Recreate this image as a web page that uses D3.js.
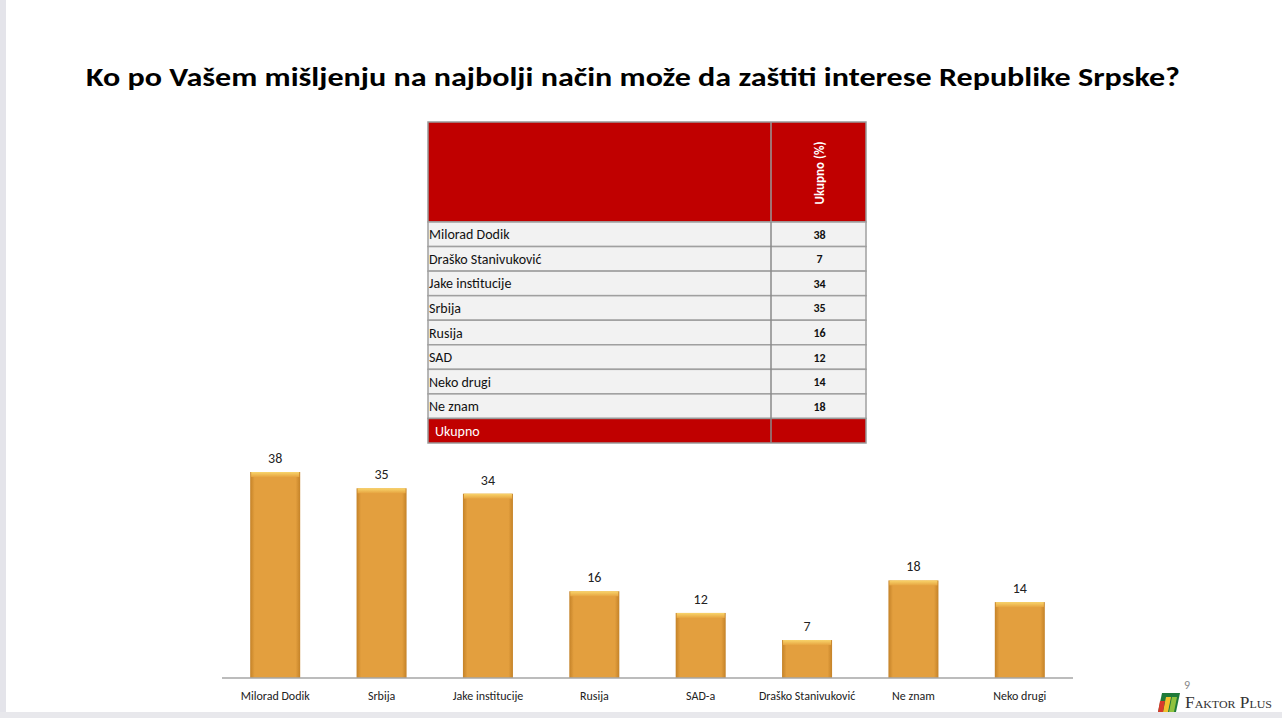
<!DOCTYPE html>
<html>
<head>
<meta charset="utf-8">
<script src="https://cdn.jsdelivr.net/npm/d3@7"></script>
<style>
  body { margin: 0; background: #fff; }
  svg { display: block; }
</style>
</head>
<body>
<script>
// table rows (order as in the table)
const tableLabels = ["Milorad Dodik", "Draško Stanivuković", "Jake institucije", "Srbija", "Rusija", "SAD", "Neko drugi", "Ne znam"]
const tableValues = [38, 7, 34, 35, 16, 12, 14, 18]

// bar chart (sorted as in the chart)
const categories = ["Milorad Dodik", "Srbija", "Jake institucije", "Rusija", "SAD-a", "Draško Stanivuković", "Ne znam", "Neko drugi"]
const values = [38, 35, 34, 16, 12, 7, 18, 14]

const W = 1282, H = 718
const font = "Carlito, 'Open Sans', 'Liberation Sans', sans-serif"

const svg = d3.select("body").append("svg").attr("width", W).attr("height", H)

// slide frame
svg.append("rect").attr("x", 0).attr("y", 0).attr("width", 6).attr("height", H).attr("fill", "#e4e4ea")
svg.append("rect").attr("x", 0).attr("y", 712).attr("width", W).attr("height", 6).attr("fill", "#e8e8ec")

svg.append("text")
  .attr("x", 633).attr("y", 86)
  .attr("text-anchor", "middle")
  .attr("font-family", font).attr("font-weight", "bold").attr("font-size", 26)
  .attr("textLength", 1094).attr("lengthAdjust", "spacingAndGlyphs")
  .attr("fill", "#000")
  .text("Ko po Vašem mišljenju na najbolji način može da zaštiti interese Republike Srpske?")

// ---- table ----
const tX = 428, tW = 438, colX = 771, headTop = 122, headBot = 222, tBot = 443
const rowY = d3.scaleBand().domain(d3.range(tableLabels.length + 1)).range([headBot, tBot])
const tbl = svg.append("g")

tbl.append("rect").attr("x", tX).attr("y", headTop).attr("width", tW).attr("height", headBot - headTop)
  .attr("fill", "#c00000").attr("stroke", "#999").attr("stroke-width", 1.5)
tbl.append("line").attr("x1", colX).attr("x2", colX).attr("y1", headTop).attr("y2", headBot)
  .attr("stroke", "#999").attr("stroke-width", 1.5)
tbl.append("text")
  .attr("transform", `translate(${(colX + tX + tW) / 2 + 5},${(headTop + headBot) / 2 + 1}) rotate(-90)`)
  .attr("text-anchor", "middle")
  .attr("font-family", font).attr("font-weight", "bold").attr("font-size", 13)
  .attr("fill", "#fff").text("Ukupno (%)")

const rows = tbl.selectAll("g.row").data(tableLabels).join("g").attr("class", "row")
rows.append("rect")
  .attr("x", tX).attr("y", (d, i) => rowY(i)).attr("width", tW).attr("height", rowY.bandwidth())
  .attr("fill", "#f2f2f2").attr("stroke", "#a0a0a0").attr("stroke-width", 1.5)
rows.append("text")
  .attr("x", tX + 1).attr("y", (d, i) => rowY(i) + rowY.bandwidth() / 2 + 5)
  .attr("font-family", font).attr("font-size", 14).attr("fill", "#111")
  .text(d => d)
rows.append("text")
  .attr("x", (colX + tX + tW) / 2 + 1).attr("y", (d, i) => rowY(i) + rowY.bandwidth() / 2 + 4.5)
  .attr("text-anchor", "middle")
  .attr("font-family", font).attr("font-weight", "bold").attr("font-size", 12).attr("fill", "#111")
  .text((d, i) => tableValues[i])

const lastY = rowY(tableLabels.length)
tbl.append("rect").attr("x", tX).attr("y", lastY).attr("width", tW).attr("height", tBot - lastY)
  .attr("fill", "#c00000").attr("stroke", "#999").attr("stroke-width", 1.5)
tbl.append("text").attr("x", tX + 7).attr("y", lastY + rowY.bandwidth() / 2 + 5)
  .attr("font-family", font).attr("font-size", 14).attr("fill", "#fff").text("Ukupno")
tbl.append("line").attr("x1", colX).attr("x2", colX).attr("y1", headBot).attr("y2", tBot)
  .attr("stroke", "#8a8a8a").attr("stroke-width", 1.5)

// ---- bar chart ----
const x = d3.scaleBand().domain(categories).range([222, 1073]).paddingInner(0.53).paddingOuter(0.265)
const y = d3.scaleLinear().domain([0, 38]).range([678, 472])

const defs = svg.append("defs")
const grad = defs.append("linearGradient").attr("id", "barGrad").attr("x1", 0).attr("x2", 1).attr("y1", 0).attr("y2", 0)
grad.append("stop").attr("offset", "0%").attr("stop-color", "#c48228")
grad.append("stop").attr("offset", "9%").attr("stop-color", "#e39f3e")
grad.append("stop").attr("offset", "91%").attr("stop-color", "#e39f3e")
grad.append("stop").attr("offset", "100%").attr("stop-color", "#c48228")
const topGrad = defs.append("linearGradient").attr("id", "topGrad").attr("x1", 0).attr("x2", 0).attr("y1", 0).attr("y2", 1)
topGrad.append("stop").attr("offset", "0%").attr("stop-color", "#f9d56c")
topGrad.append("stop").attr("offset", "100%").attr("stop-color", "#e6a440")

const bars = svg.append("g").selectAll("g").data(categories).join("g")
bars.append("rect")
  .attr("x", d => x(d)).attr("y", (d, i) => y(values[i]))
  .attr("width", x.bandwidth()).attr("height", (d, i) => y(0) - y(values[i]))
  .attr("fill", "url(#barGrad)")
bars.append("rect")
  .attr("x", d => x(d) + 1).attr("y", (d, i) => y(values[i]))
  .attr("width", x.bandwidth() - 2).attr("height", 5)
  .attr("fill", "url(#topGrad)")
bars.append("text")
  .attr("x", d => x(d) + x.bandwidth() / 2).attr("y", (d, i) => y(values[i]) - 9)
  .attr("text-anchor", "middle")
  .attr("font-family", font).attr("font-size", 14).attr("fill", "#222")
  .text((d, i) => values[i])

const xAxis = svg.append("g").attr("transform", "translate(0,678)")
  .call(d3.axisBottom(x).tickSize(0).tickPadding(13))
xAxis.select(".domain").attr("stroke", "#a6a6a6").attr("stroke-width", 1.5).attr("d", "M222,0H1073")
xAxis.selectAll("text").attr("font-family", font).attr("font-size", 12).attr("fill", "#222")

// page number and logo
svg.append("text").attr("x", 1187).attr("y", 689).attr("text-anchor", "middle")
  .attr("font-family", font).attr("font-size", 12).attr("fill", "#888").text("9")
const logo = svg.append("g").attr("transform", "translate(1158,693)")
logo.append("path").attr("d", "M4,0H22L18,19H0Z").attr("fill", "#1f7a3a")
logo.append("path").attr("d", "M8,4H13L10,19H5Z").attr("fill", "#f2c12e")
logo.append("path").attr("d", "M14,4H19L16,19H11Z").attr("fill", "#8fc23f")
logo.append("path").attr("d", "M2,8H7L5,19H0Z").attr("fill", "#d93a2b")
svg.append("text").attr("x", 1185).attr("y", 708)
  .attr("font-family", "'Liberation Serif', 'DejaVu Serif', serif").attr("font-size", 16)
  .attr("font-variant", "small-caps")
  .attr("textLength", 87).attr("lengthAdjust", "spacingAndGlyphs")
  .attr("fill", "#333")
  .text("Faktor Plus")
</script>
</body>
</html>
